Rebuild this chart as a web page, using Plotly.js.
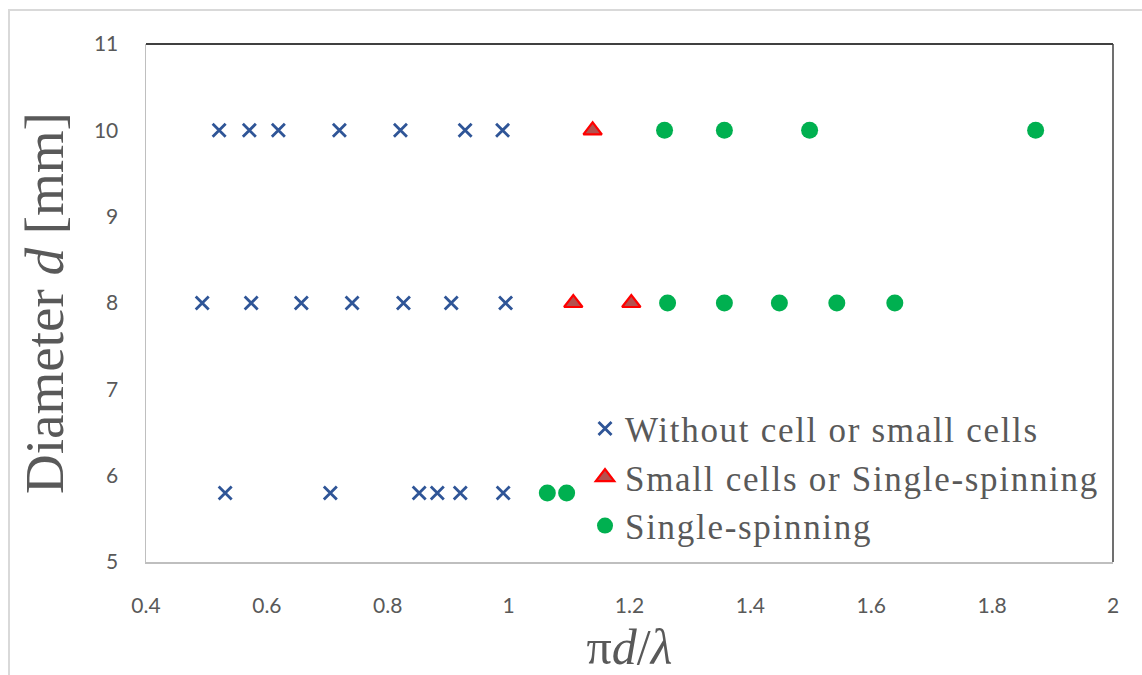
<!DOCTYPE html>
<html>
<head>
<meta charset="utf-8">
<script src="https://cdn.plot.ly/plotly-3.0.1.min.js"></script>
<style>
  html, body { margin: 0; padding: 0; background: #fff; }
  #wrap { position: relative; width: 1142px; height: 675px; overflow: hidden; }
  #chart { position: absolute; left: 0; top: 0; width: 1142px; height: 675px; }
  .legendtext { letter-spacing: 1.7px; }
  #frame { position: absolute; left: 8px; top: 9px; width: 1200px; height: 720px;
           border: 2px solid #d9d9d9; pointer-events: none; box-sizing: border-box; }
</style>
</head>
<body>
<div id="wrap"><div id="chart"></div><div id="frame"></div></div>
<script>
// Series data
const noCellX = [0.521, 0.571, 0.619, 0.720, 0.821, 0.928, 0.990,
                 0.493, 0.574, 0.657, 0.741, 0.826, 0.905, 0.995,
                 0.531, 0.705, 0.852, 0.882, 0.920, 0.991];
const noCellY = [10, 10, 10, 10, 10, 10, 10,
                 8, 8, 8, 8, 8, 8, 8,
                 5.8, 5.8, 5.8, 5.8, 5.8, 5.8];

const smallCellX = [1.139, 1.107, 1.203];
const smallCellY = [10, 8, 8];

const spinX = [1.258, 1.357, 1.498, 1.872,
               1.263, 1.357, 1.448, 1.543, 1.639,
               1.064, 1.096];
const spinY = [10, 10, 10, 10,
               8, 8, 8, 8, 8,
               5.8, 5.8];

const seriesNames = ["Without cell or small cells", "Small cells or Single-spinning", "Single-spinning"];

const traces = [
  {
    x: noCellX, y: noCellY, type: "scatter", mode: "markers", name: seriesNames[0],
    marker: { symbol: "x-thin", size: 13, color: "#2F5597", line: { color: "#2F5597", width: 2.8 } }
  },
  {
    x: smallCellX, y: smallCellY, type: "scatter", mode: "markers", name: seriesNames[1],
    marker: { symbol: "triangle-up", size: 16, color: "#B5504E", line: { color: "#FF0000", width: 2.2 } }
  },
  {
    x: spinX, y: spinY, type: "scatter", mode: "markers", name: seriesNames[2],
    marker: { symbol: "circle", size: 17, color: "#00B050", line: { width: 0 } }
  }
];

const tickFont = { family: "Lato, 'Open Sans', sans-serif", size: 21, color: "#595959" };
const serif = "'Liberation Serif', 'Times New Roman', serif";

const layout = {
  width: 1142, height: 675,
  margin: { l: 146, r: 29, t: 44, b: 113 },
  paper_bgcolor: "rgba(0,0,0,0)", plot_bgcolor: "#ffffff",
  showlegend: true,
  legend: {
    x: 0.454, y: 0.314, xanchor: "left", yanchor: "top",
    bgcolor: "rgba(0,0,0,0)",
    font: { family: serif, size: 35, color: "#595959" },
    itemwidth: 30, tracegroupgap: 0
  },
  xaxis: {
    range: [0.4, 2], dtick: 0.2, tick0: 0.4,
    showgrid: false, zeroline: false,
    showline: true, linecolor: "#bfbfbf", linewidth: 1.5,
    ticks: "", tickfont: tickFont, ticklabelstandoff: 24,
    title: { text: "π<i>d</i>/<i>λ</i>", font: { family: serif, size: 50, color: "#595959" }, standoff: 13 }
  },
  yaxis: {
    range: [5, 11], dtick: 1, tick0: 5,
    showgrid: false, zeroline: false,
    showline: true, linecolor: "#bfbfbf", linewidth: 1.5,
    ticks: "", tickfont: tickFont, ticklabelstandoff: 22,
    title: { text: "Diameter <i>d</i> [mm]", font: { family: serif, size: 55, color: "#595959" }, standoff: 12 }
  },
  shapes: [
    { type: "line", xref: "paper", yref: "paper", x0: 0, x1: 1, y0: 1, y1: 1, line: { color: "#000000", width: 1.5 } },
    { type: "line", xref: "paper", yref: "paper", x0: 1, x1: 1, y0: 0, y1: 1, line: { color: "#404040", width: 1.5 } }
  ]
};

Plotly.newPlot("chart", traces, layout, { displayModeBar: false, staticPlot: true });
</script>
</body>
</html>
